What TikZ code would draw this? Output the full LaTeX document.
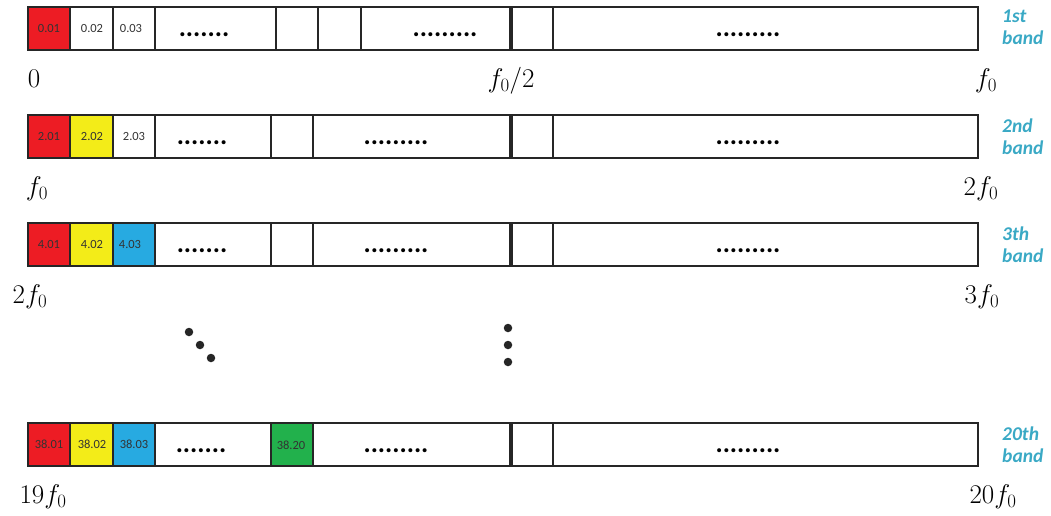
\documentclass[tikz,border=0pt]{standalone}
\usepackage{fix-cm}
\usepackage{fontspec}
\newfontfamily\cellfont{Carlito}

\definecolor{cred}{HTML}{ED1C24}
\definecolor{cyellow}{HTML}{F3EC18}
\definecolor{cblue}{HTML}{27AAE1}
\definecolor{cgreen}{HTML}{22B14C}
\definecolor{bandteal}{HTML}{3AA9C5}
\definecolor{framegray}{HTML}{262626}
\definecolor{txtgray}{HTML}{333333}

\tikzset{
  outerbox/.style={draw=framegray, line width=2.2pt},
  sepline/.style={draw=framegray, line width=1.7pt},
  halfline/.style={draw=framegray, line width=3.4pt},
  celltxt/.style={font=\cellfont\fontsize{12.5}{13}\selectfont, text=txtgray, inner sep=0pt},
  ellip/.style={font=\cellfont\bfseries\fontsize{27}{27}\selectfont, text=black, inner sep=0pt},
  bandlbl/.style={font=\cellfont\bfseries\itshape\fontsize{19.5}{22}\selectfont, text=bandteal,
    align=left, anchor=west, inner sep=0pt},
  freq/.style={font=\fontsize{27}{30}\selectfont, anchor=base, inner sep=0pt},
  bigdot/.style={fill=framegray, circle, inner sep=0pt, minimum size=8.5pt}
}

\begin{document}
\begin{tikzpicture}[x=1pt, y=-1pt]
\useasboundingbox (0,0) rectangle (1051,515);

% ---------- 1st band ----------
\fill[cred] (28,7) rectangle (70,50);
\foreach \x in {70,113,155,276,318,361,553} \draw[sepline] (\x,7) -- (\x,50);
\draw[halfline] (511,7) -- (511,50);
\draw[outerbox] (28,7) rectangle (978,50);
\node[celltxt] (a1) at (49,28.5) {0.01};
\node[celltxt] (a2) at (92,28.5) {0.02};
\node[celltxt] (a3) at (131,28.5) {0.03};
\node[ellip] (ae1) at (204,35) {.......};
\node[ellip] (ae2) at (445,35) {.........};
\node[ellip] (ae3) at (748,35) {.........};
\node[bandlbl] (ab) at (1002,27) {1st\\band};
\node[freq] (af0) at (34,87) {$0$};
\node[freq] (afh) at (511,87) {$f_0/2$};
\node[freq] (af1) at (986,87) {$f_0$};

% ---------- 2nd band ----------
\fill[cred] (28,115) rectangle (70,158);
\fill[cyellow] (70,115) rectangle (113,158);
\foreach \x in {70,113,155,271,313,553} \draw[sepline] (\x,115) -- (\x,158);
\draw[halfline] (511,115) -- (511,158);
\draw[outerbox] (28,115) rectangle (978,158);
\node[celltxt] (b1) at (49,136.5) {2.01};
\node[celltxt] (b2) at (92,136.5) {2.02};
\node[celltxt] (b3) at (134,136.5) {2.03};
\node[ellip] (be1) at (202,143) {.......};
\node[ellip] (be2) at (396,143) {.........};
\node[ellip] (be3) at (748,143) {.........};
\node[bandlbl] (bb) at (1002,137) {2nd\\band};
\node[freq] (bf0) at (37,195) {$f_0$};
\node[freq] (bf1) at (981,195) {$2f_0$};

% ---------- 3rd band ----------
\fill[cred] (28,223) rectangle (70,266);
\fill[cyellow] (70,223) rectangle (113,266);
\fill[cblue] (113,223) rectangle (155,266);
\foreach \x in {70,113,155,271,313,553} \draw[sepline] (\x,223) -- (\x,266);
\draw[halfline] (511,223) -- (511,266);
\draw[outerbox] (28,223) rectangle (978,266);
\node[celltxt] (c1) at (49,244.5) {4.01};
\node[celltxt] (c2) at (92,244.5) {4.02};
\node[celltxt] (c3) at (130,244.5) {4.03};
\node[ellip] (ce1) at (202,251) {.......};
\node[ellip] (ce2) at (396,251) {.........};
\node[ellip] (ce3) at (748,251) {.........};
\node[bandlbl] (cb) at (1002,245) {3th\\band};
\node[freq] (cf0) at (30,303) {$2f_0$};
\node[freq] (cf1) at (982,303) {$3f_0$};

% ---------- continuation dots ----------
\node[bigdot] (d1) at (189,332) {};
\node[bigdot] (d2) at (200,345) {};
\node[bigdot] (d3) at (211,358) {};
\node[bigdot] (v1) at (508,328) {};
\node[bigdot] (v2) at (508,345) {};
\node[bigdot] (v3) at (508,362) {};

% ---------- 20th band ----------
\fill[cred] (28,423) rectangle (70,466);
\fill[cyellow] (70,423) rectangle (113,466);
\fill[cblue] (113,423) rectangle (155,466);
\fill[cgreen] (271,423) rectangle (313,466);
\foreach \x in {70,113,155,271,313,553} \draw[sepline] (\x,423) -- (\x,466);
\draw[halfline] (511,423) -- (511,466);
\draw[outerbox] (28,423) rectangle (978,466);
\node[celltxt] (e1) at (49,444.5) {38.01};
\node[celltxt] (e2) at (92,444.5) {38.02};
\node[celltxt] (e3) at (134,444.5) {38.03};
\node[ellip] (ee1) at (201,451) {.......};
\node[celltxt] (e20) at (291,445.5) {38.20};
\node[ellip] (ee2) at (396,451) {.........};
\node[ellip] (ee3) at (748,451) {.........};
\node[bandlbl] (eb) at (1002,445) {20th\\band};
\node[freq] (ef0) at (43,503) {$19f_0$};
\node[freq] (ef1) at (993,503) {$20f_0$};
\end{tikzpicture}
\end{document}
